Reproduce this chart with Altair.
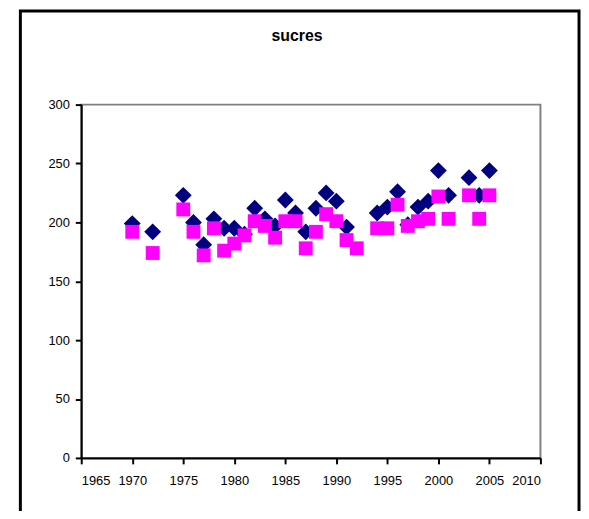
import altair as alt
import pandas as pd

# Series A (navy diamonds)
years_a = [1970, 1972, 1975, 1976, 1977, 1978, 1979, 1980, 1981, 1982, 1983, 1984,
           1985, 1986, 1987, 1988, 1989, 1990, 1991, 1994, 1995, 1996, 1997, 1998,
           1999, 2000, 2001, 2003, 2004, 2005]
values_a = [199, 192, 223, 200, 181, 203, 195, 195, 190, 212, 203, 197,
            219, 208, 192, 212, 225, 218, 196, 208, 213, 226, 198, 213,
            218, 244, 223, 238, 223, 244]

# Series B (magenta squares)
years_b = [1970, 1972, 1975, 1976, 1977, 1978, 1979, 1980, 1981, 1982, 1983, 1984,
           1985, 1986, 1987, 1988, 1989, 1990, 1991, 1992, 1994, 1995, 1996, 1997,
           1998, 1999, 2000, 2001, 2003, 2004, 2005]
values_b = [192, 174, 211, 192, 172, 195, 176, 182, 189, 201, 197, 187,
            201, 201, 178, 192, 207, 201, 185, 178, 195, 195, 215, 197,
            201, 203, 222, 203, 223, 203, 223]

x_ticks = list(range(1965, 2011, 5))
y_ticks = list(range(0, 301, 50))
title_text = "sucres"

df_a = pd.DataFrame({"year": years_a, "value": values_a})
df_b = pd.DataFrame({"year": years_b, "value": values_b})

xs = alt.X("year:Q", scale=alt.Scale(domain=[1965, 2010], nice=False, zero=False),
           axis=alt.Axis(values=x_ticks, format="d", title=None, grid=False,
                         labelPadding=11))
ys = alt.Y("value:Q", scale=alt.Scale(domain=[0, 300], nice=False),
           axis=alt.Axis(values=y_ticks, title=None, grid=False, labelPadding=6))

diamonds = alt.Chart(df_a).mark_point(
    shape="diamond", filled=True, size=289, color="#000080", opacity=1
).encode(x=xs, y=ys)

squares = alt.Chart(df_b).mark_point(
    shape="square", filled=True, size=196, color="#FF00FF", opacity=1
).encode(x=xs, y=ys)

frame = alt.Chart(pd.DataFrame({"a": [0]})).mark_rect(
    fill=None, stroke="black", strokeWidth=3
).encode(
    x=alt.value(-61.5), x2=alt.value(503),
    y=alt.value(-94.5), y2=alt.value(460)
)

title = alt.Chart(pd.DataFrame({"t": [title_text]})).mark_text(
    font="Liberation Sans", fontSize=16, fontWeight="bold", color="black",
    align="center", baseline="alphabetic"
).encode(
    x=alt.value(218), y=alt.value(-64), text="t:N"
)

chart = alt.layer(frame, title, diamonds, squares).properties(
    width=464, height=357,
    autosize=alt.AutoSizeParams(type="none"),
    padding={"left": 74, "top": 95, "right": 41, "bottom": 51},
).configure_view(
    stroke="#808080", strokeWidth=2
).configure_axis(
    domainColor="black", domainWidth=2, tickColor="black", tickWidth=2,
    tickSize=6, labelFont="Liberation Sans", labelFontSize=13, labelColor="black"
)

chart.save("out.html", embed_options={"renderer": "svg", "actions": False})
